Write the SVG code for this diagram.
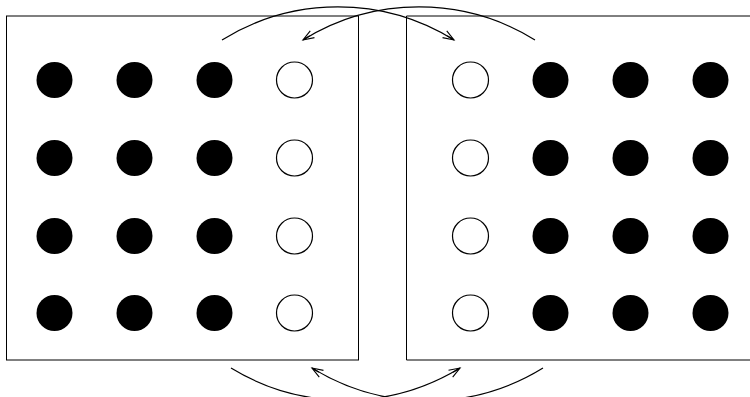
<svg xmlns="http://www.w3.org/2000/svg" width="750" height="397" viewBox="0 0 750 397">
<style>
.box{fill:none;stroke:#000;stroke-width:1}
.full{fill:#000}
.empty{fill:#fff;stroke:#000;stroke-width:1.2}
.arc{fill:none;stroke:#000;stroke-width:1.2;marker-end:url(#ah)}
</style>
<defs>
<marker id="ah" markerWidth="14" markerHeight="10" refX="12" refY="5" orient="auto" markerUnits="userSpaceOnUse">
<path d="M1,1 L12,5 L1,9 M4,5 L12,5" fill="none" stroke="#000" stroke-width="1.1"/>
</marker>
</defs>
<rect width="750" height="397" fill="#fff"/>
<g id="left-panel">
<rect class="box" x="6.5" y="16" width="352" height="344"/>
<circle class="full" cx="54.5" cy="80" r="18"/><circle class="full" cx="134.5" cy="80" r="18"/><circle class="full" cx="214.5" cy="80" r="18"/><circle class="empty" cx="294.5" cy="80" r="18"/>
<circle class="full" cx="54.5" cy="158" r="18"/><circle class="full" cx="134.5" cy="158" r="18"/><circle class="full" cx="214.5" cy="158" r="18"/><circle class="empty" cx="294.5" cy="158" r="18"/>
<circle class="full" cx="54.5" cy="236" r="18"/><circle class="full" cx="134.5" cy="236" r="18"/><circle class="full" cx="214.5" cy="236" r="18"/><circle class="empty" cx="294.5" cy="236" r="18"/>
<circle class="full" cx="54.5" cy="313" r="18"/><circle class="full" cx="134.5" cy="313" r="18"/><circle class="full" cx="214.5" cy="313" r="18"/><circle class="empty" cx="294.5" cy="313" r="18"/>
</g>
<g id="right-panel">
<path class="box" d="M751,16 H406.5 V360 H751"/>
<circle class="empty" cx="470.5" cy="80" r="18"/><circle class="full" cx="550.5" cy="80" r="18"/><circle class="full" cx="630.5" cy="80" r="18"/><circle class="full" cx="710.5" cy="80" r="18"/>
<circle class="empty" cx="470.5" cy="158" r="18"/><circle class="full" cx="550.5" cy="158" r="18"/><circle class="full" cx="630.5" cy="158" r="18"/><circle class="full" cx="710.5" cy="158" r="18"/>
<circle class="empty" cx="470.5" cy="236" r="18"/><circle class="full" cx="550.5" cy="236" r="18"/><circle class="full" cx="630.5" cy="236" r="18"/><circle class="full" cx="710.5" cy="236" r="18"/>
<circle class="empty" cx="470.5" cy="313" r="18"/><circle class="full" cx="550.5" cy="313" r="18"/><circle class="full" cx="630.5" cy="313" r="18"/><circle class="full" cx="710.5" cy="313" r="18"/>
</g>
<g id="connectors">
<path class="arc" d="M222,40 A220,220 0 0 1 454,40"/>
<path class="arc" d="M535,40 A220,220 0 0 0 303,40"/>
<path class="arc" d="M231,368 A220,220 0 0 0 460,368"/>
<path class="arc" d="M543,368 A220,220 0 0 1 312,368"/>
</g>
</svg>
